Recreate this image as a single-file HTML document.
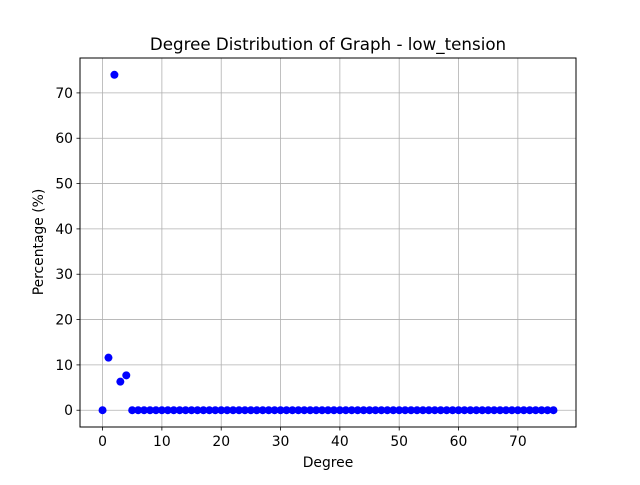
<!DOCTYPE html>
<html><head><meta charset="utf-8"><style>
body{margin:0;background:#fff;font-family:"Liberation Sans","DejaVu Sans",sans-serif;}
svg text{font-family:"DejaVu Sans","Liberation Sans",sans-serif;}
</style></head><body>
<svg id="chart" width="640" height="480" xmlns="http://www.w3.org/2000/svg">
<rect width="640" height="480" fill="#fff"/>
<g id="grid"></g>
<g id="points"></g>
<rect x="80" y="58" width="496" height="369" fill="none" stroke="#000" stroke-width="1"/>
<g id="xticks"></g>
<g id="yticks"></g>
<text x="328" y="50" text-anchor="middle" font-size="16.7">Degree Distribution of Graph - low_tension</text>
<text x="328" y="467" text-anchor="middle" font-size="13.9">Degree</text>
<text x="0" y="0" transform="translate(43,242) rotate(-90)" text-anchor="middle" font-size="13.9">Percentage (%)</text>
</svg>
<script>
const degrees = [0,1,2,3,4];
const percents = [0,11.6,74,6.3,7.7];
for (let d=5; d<=76; d++){ degrees.push(d); percents.push(0); }
const xTicks = [0,10,20,30,40,50,60,70];
const yTicks = [0,10,20,30,40,50,60,70];
const X0=80,X1=576,Y0=427,Y1=58;
const xmin=-3.8,xmax=79.8,ymin=-3.7,ymax=77.7;
const sx=v=>X0+(v-xmin)/(xmax-xmin)*(X1-X0);
const sy=v=>Y0-(v-ymin)/(ymax-ymin)*(Y0-Y1);
const NS="http://www.w3.org/2000/svg";
function mk(tag,attrs,parent){const e=document.createElementNS(NS,tag);for(const k in attrs)e.setAttribute(k,attrs[k]);parent.appendChild(e);return e;}
const grid=document.getElementById('grid'),xt=document.getElementById('xticks'),yt=document.getElementById('yticks'),pts=document.getElementById('points');
xTicks.forEach(t=>{const x=sx(t);
 let g=mk('line',{x1:x,x2:x,y1:Y1,y2:Y0,stroke:'#b0b0b0','stroke-width':0.8},grid);
 
 
 let l=mk('line',{x1:x,x2:x,y1:Y0,y2:Y0+3.5,stroke:'#000','stroke-width':0.8},xt);
 
 
 let tx=mk('text',{x:x,y:Y0+19,'text-anchor':'middle','font-size':13.9},xt);tx.textContent=t;
 
 
});
yTicks.forEach(t=>{const y=sy(t);
 let g=mk('line',{x1:X0,x2:X1,y1:y,y2:y,stroke:'#b0b0b0','stroke-width':0.8},grid);
 
 
 let l=mk('line',{x1:X0-3.5,x2:X0,y1:y,y2:y,stroke:'#000','stroke-width':0.8},yt);
 
 
 let tx=mk('text',{x:X0-7,y:y+5,'text-anchor':'end','font-size':13.9},yt);tx.textContent=t;
 
 
});
degrees.forEach((d,i)=>{
 let c=mk('circle',{cx:sx(d),cy:sy(percents[i]),r:4,fill:'#0000ff'},pts);
 
 
});
</script>
</body></html>
